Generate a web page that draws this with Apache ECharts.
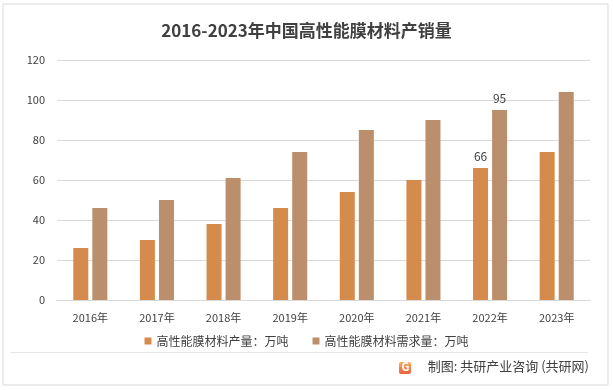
<!DOCTYPE html>
<html><head><meta charset="utf-8">
<script src="https://cdn.jsdelivr.net/npm/echarts@6/dist/echarts.min.js"></script>
<style>html,body{margin:0;padding:0;background:#fff}#c{width:613px;height:390px}</style>
</head><body><div id="c"></div>
<script>
const categories = ['2016年','2017年','2018年','2019年','2020年','2021年','2022年','2023年'];
const production = [26,30,38,46,54,60,66,74];
const demand = [46,50,61,74,85,90,95,104];
const yTicks = [0,20,40,60,80,100,120];
const seriesNames = ['高性能膜材料产量：万吨','高性能膜材料需求量：万吨'];
const labeledIndex = 6;

const font = '"Noto Sans CJK SC","Noto Sans",sans-serif';
const chart = echarts.init(document.getElementById('c'));
chart.setOption({
  animation:false,
  backgroundColor:'#fff',
  title:{text:'2016-2023年中国高性能膜材料产销量',left:'center',top:17,
    textStyle:{fontFamily:font,fontSize:17,fontWeight:'bold',color:'#404040'}},
  grid:{left:57,right:23,top:60,bottom:90,containLabel:false},
  legend:{bottom:38,left:'center',itemWidth:7,itemHeight:7,itemGap:24,icon:'rect',
    textStyle:{fontFamily:font,fontSize:12,color:'#404040'},
    data:seriesNames},
  xAxis:{type:'category',data:categories,
    axisLine:{lineStyle:{color:'#d9d9d9'}},axisTick:{show:false},
    axisLabel:{fontFamily:font,fontSize:11,color:'#404040',margin:12}},
  yAxis:{type:'value',min:yTicks[0],max:yTicks[yTicks.length-1],interval:20,
    axisLine:{show:false},axisTick:{show:false},
    splitLine:{lineStyle:{color:'#d9d9d9'}},
    axisLabel:{fontFamily:font,fontSize:11,color:'#404040',margin:12}},
  series:[
    {name:seriesNames[0],type:'bar',barWidth:15,barGap:'27%',
      itemStyle:{color:'#D48B4C'},
      data:production.map((v,i)=>i===labeledIndex?{value:v,label:{show:true,position:'top',distance:6,fontFamily:font,fontSize:12,color:'#404040'}}:v)},
    {name:seriesNames[1],type:'bar',barWidth:15,
      itemStyle:{color:'#BB8E6C'},
      data:demand.map((v,i)=>i===labeledIndex?{value:v,label:{show:true,position:'top',distance:6,fontFamily:font,fontSize:12,color:'#404040'}}:v)}
  ],
  graphic:[
    {type:'rect',shape:{x:3,y:4,width:605,height:381},style:{fill:'none',stroke:'#d9d9d9',lineWidth:1},silent:true},
    {type:'line',shape:{x1:10,y1:352.5,x2:588,y2:352.5},style:{stroke:'#e6e6e6',lineWidth:1}},
    {type:'rect',shape:{x:399,y:362,width:12,height:12,r:2},style:{fill:{type:'linear',x:0,y:0,x2:0,y2:1,colorStops:[{offset:0,color:'#f7b062'},{offset:1,color:'#e8603c'}]}}},
    {type:'text',left:401.5,top:361,style:{text:'G',fill:'#fff',font:'bold 11px '+font}},
    {type:'text',right:24,top:360,style:{text:'制图: 共研产业咨询 (共研网)',fill:'#404040',font:'13px '+font}}
  ]
});
</script></body></html>
